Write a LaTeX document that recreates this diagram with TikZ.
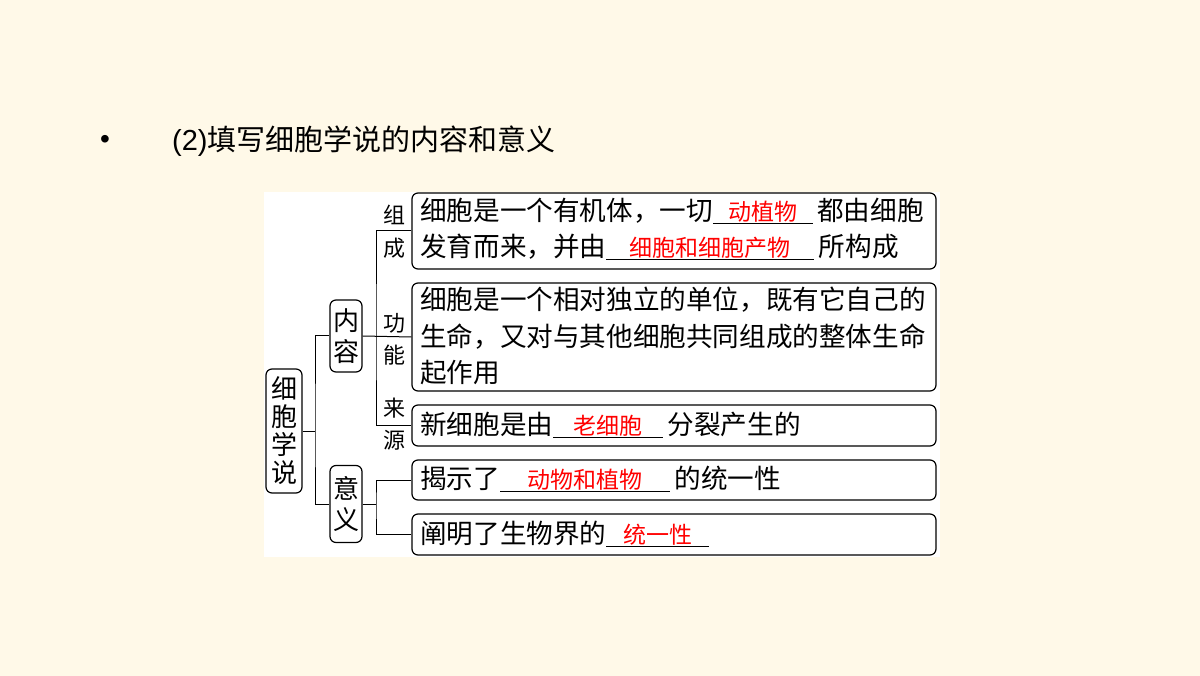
\documentclass[tikz,border=0pt]{standalone}
\usepackage{fontspec}
\setmainfont{Liberation Sans}
\newfontfamily\cjk{Noto Sans CJK SC}
\newcommand\blank[2]{\underline{\makebox[#1]{\textcolor{red}{\fontsize{23}{23}\selectfont #2}}}}
\begin{document}
\begin{tikzpicture}[x=1pt,y=-1pt,
  bx/.style={draw,line width=1.2pt,rounded corners=6pt},
  ln/.style={line width=1pt},
  tx/.style={anchor=west,inner sep=0pt,font=\cjk\fontsize{26.6}{26.6}\selectfont},
  lb/.style={inner sep=0pt,font=\cjk\fontsize{22}{22}\selectfont}]
\fill[color={rgb,255:red,255;green,249;blue,232}] (0,0) rectangle (1200,676);
\useasboundingbox (0,0) rectangle (1200,676);
\fill[white] (264,192) rectangle (940,557);
\node[anchor=west,inner sep=0pt,font=\fontsize{28}{28}\selectfont] (dot) at (100,142) {•};
\node[anchor=west,inner sep=0pt,font=\fontsize{29}{29}\selectfont] (title) at (172,141) {(2){\cjk 填写细胞学说的内容和意义}};
% left boxes
\node[bx,minimum width=36pt,minimum height=124pt] (xb) at (284,431) {};
\node[lb,font=\cjk\fontsize{26}{26}\selectfont,align=center] (xbt) at (284,431) {细\\[2pt]胞\\[2pt]学\\[2pt]说};
\node[bx,minimum width=32pt,minimum height=72pt] (nr) at (346,336) {};
\node[lb,font=\cjk\fontsize{26}{26}\selectfont,align=center] (nrt) at (346,336) {内\\[5pt]容};
\node[bx,minimum width=32pt,minimum height=77pt] (yy) at (346,504) {};
\node[lb,font=\cjk\fontsize{26}{26}\selectfont,align=center] (yyt) at (346,504) {意\\[5pt]义};
% right boxes
\node[bx,minimum width=524pt,minimum height=76pt] (b1) at (674,231) {};
\node[bx,minimum width=524pt,minimum height=108pt] (b2) at (674,337) {};
\node[bx,minimum width=524pt,minimum height=41pt] (b3) at (674,425.5) {};
\node[bx,minimum width=524pt,minimum height=40pt] (b4) at (674,480) {};
\node[bx,minimum width=524pt,minimum height=41pt] (b5) at (674,534.5) {};
% connectors
\coordinate (j1) at (315,431);
\draw[ln] (xb.east) -- (j1);
\draw[ln] (nr.west) -| (j1) |- (yy.west);
\coordinate (j2) at (376,336);
\draw[ln] (nr.east) -- (b2.west);
\draw[ln] (b1.west) -| (j2) |- (b3.west);
\coordinate (j3) at (376,504);
\draw[ln] (yy.east) -- (j3);
\draw[ln] (b4.west) -| (j3) |- (b5.west);
% labels
\node[lb] (l1) at (394,215) {组};
\node[lb] (l2) at (394,248) {成};
\node[lb] (l3) at (394,323) {功};
\node[lb] (l4) at (394,355) {能};
\node[lb] (l5) at (394,408) {来};
\node[lb] (l6) at (394,440) {源};
% texts
\node[tx] (t1a) at (420,211) {细胞是一个有机体，一切\blank{100pt}{动植物}\,都由细胞};
\node[tx] (t1b) at (420,247) {发育而来，并由\blank{208pt}{细胞和细胞产物}\,所构成};
\node[tx] (t2a) at (420,300) {细胞是一个相对独立的单位，既有它自己的};
\node[tx] (t2b) at (420,337) {生命，又对与其他细胞共同组成的整体生命};
\node[tx] (t2c) at (420,373) {起作用};
\node[tx] (t3) at (420,425) {新细胞是由\blank{110pt}{老细胞}\,分裂产生的};
\node[tx] (t4) at (420,479) {揭示了\blank{170pt}{动物和植物}\,的统一性};
\node[tx] (t5) at (420,534) {阐明了生物界的\blank{103pt}{统一性}};
\end{tikzpicture}
\end{document}
